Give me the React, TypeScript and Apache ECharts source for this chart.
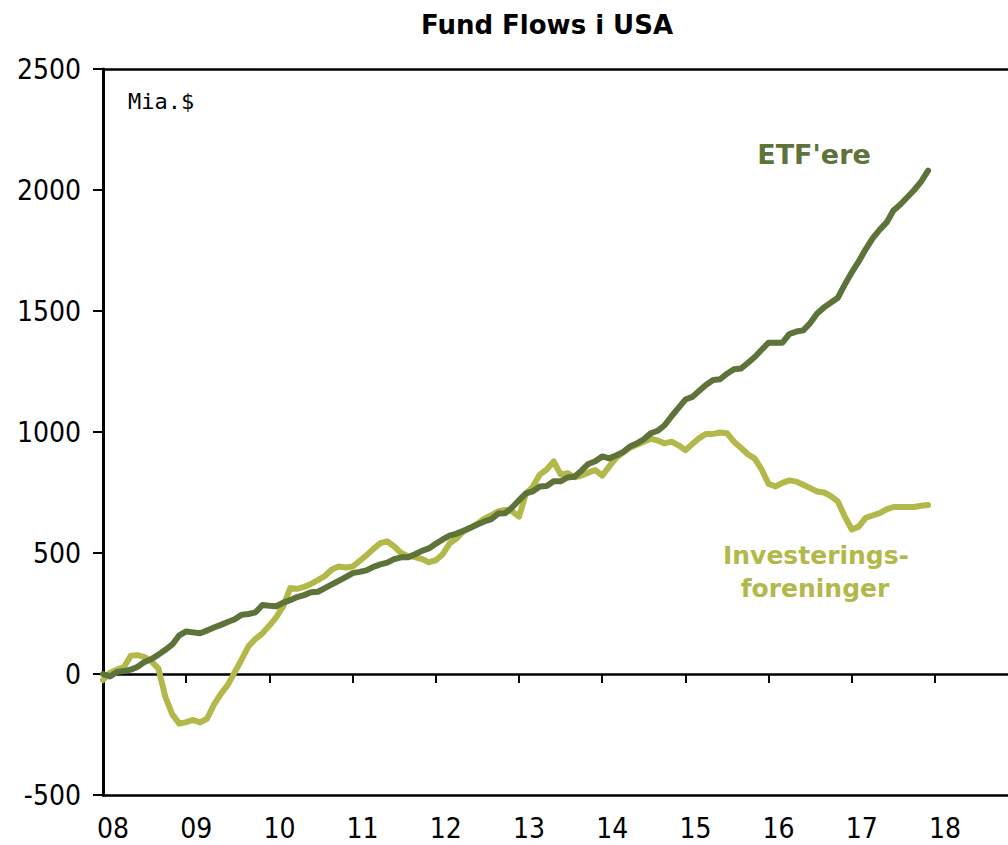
import React, { useEffect, useRef } from "react";
import * as echarts from "echarts";

const years = [2008, 2009, 2010, 2011, 2012, 2013, 2014, 2015, 2016, 2017, 2018];
const yTicks = [-500, 0, 500, 1000, 1500, 2000, 2500];

// Monthly values, Jan 2008 .. Dec 2017 (bn $)
const etfValues = [
  0, -10, 8, 12, 18, 30, 50, 62, 80, 100, 122, 160,
  176, 172, 168, 180, 192, 203, 215, 226, 245, 248, 255, 285,
  282, 280, 295, 305, 318, 326, 338, 340, 355, 370, 385, 400,
  417, 422, 428, 443, 453, 460, 475, 482, 482, 495, 509, 519,
  538, 556, 572, 580, 592, 604, 618, 630, 640, 663, 664, 688,
  718, 746, 755, 775, 777, 796, 796, 812, 815, 840, 868, 879,
  899, 891, 903, 917, 940, 953, 970, 995, 1005, 1028, 1065, 1100,
  1134, 1145, 1170, 1195, 1215, 1218, 1241, 1259, 1262, 1285, 1310, 1340,
  1369, 1369, 1369, 1405, 1415, 1420, 1450, 1490, 1515, 1535, 1555, 1610,
  1660, 1705, 1755, 1800, 1835, 1865, 1915, 1940, 1970, 2000, 2035, 2080,
];

const fundValues = [
  -25, 5, 18, 28, 75, 78, 70, 52, 22, -95, -167, -205,
  -199, -190, -200, -185, -127, -82, -45, 8, 60, 115, 145, 168,
  200, 235, 280, 355, 352, 360, 372, 388, 405, 432, 444, 440,
  444, 467, 490, 517, 541, 548, 527, 500, 487, 483, 475, 462,
  470, 495, 540, 560, 590, 605, 620, 642, 656, 672, 678, 672,
  650, 745, 775, 824, 845, 878, 825, 830, 813, 820, 832, 843,
  820, 857, 893, 915, 935, 947, 960, 972, 965, 953, 960, 945,
  925, 950, 975, 992, 992, 998, 995, 960, 935, 908, 890, 845,
  785, 775, 790, 800, 795, 782, 768, 754, 750, 735, 712, 650,
  597, 609, 645, 655, 665, 680, 690, 690, 690, 690, 695, 698,
];

const startYear = 2008;
const monthsPerYear = 12;

const DARK = "#5E7339";
const LIGHT = "#B2B94A";
const FONT = "'DejaVu Sans Condensed', 'DejaVu Sans', sans-serif";
const BOLD_FONT = "'DejaVu Sans', sans-serif";

export default function App() {
  const ref = useRef<HTMLDivElement>(null);

  useEffect(() => {
    if (!ref.current) return;
    const chart = echarts.init(ref.current, undefined, { renderer: "svg" });

    const gridLeft = 103;
    const gridRight = 0;
    const plotWidth = 1008 - gridLeft - gridRight;
    const pxPerYear = 83.2;
    const xMax = startYear + plotWidth / pxPerYear;

    const toPoints = (vals: number[]) =>
      vals.map((v, i) => [startYear + i / monthsPerYear, v]);

    const option: any = {
      animation: false,
      backgroundColor: "#ffffff",
      title: {
        text: "Fund Flows i USA",
        left: 542,
        top: 7,
        textAlign: "center",
        textStyle: {
          fontFamily: BOLD_FONT,
          fontWeight: "bold",
          fontSize: 26,
          color: "#000",
        },
      },
      grid: { left: gridLeft, right: gridRight, top: 69, bottom: 50, containLabel: false },
      xAxis: [
        {
          type: "value",
          min: startYear,
          max: xMax,
          position: "bottom",
          axisLine: { show: true, onZero: true, lineStyle: { color: "#000", width: 2.5 } },
          axisTick: {
            show: true,
            customValues: years,
            length: 9,
            inside: false,
            lineStyle: { color: "#000", width: 2 },
          },
          axisLabel: { show: false },
          splitLine: { show: false },
        },
        {
          type: "value",
          min: startYear,
          max: xMax,
          position: "bottom",
          axisLine: { show: true, onZero: false, lineStyle: { color: "#000", width: 2.5 } },
          axisTick: { show: false },
          axisLabel: {
            show: true,
            customValues: years,
            formatter: (v: number) => String(Math.round(v) % 100).padStart(2, "0"),
            fontFamily: FONT,
            fontSize: 28,
            color: "#000",
            margin: 19,
            padding: [0, 0, 0, 20],
          },
          splitLine: { show: false },
        },
        {
          type: "value",
          min: startYear,
          max: xMax,
          position: "top",
          axisLine: { show: true, onZero: false, lineStyle: { color: "#000", width: 2.5 } },
          axisTick: { show: false },
          axisLabel: { show: false },
          splitLine: { show: false },
        },
      ],
      yAxis: {
        type: "value",
        min: yTicks[0],
        max: yTicks[yTicks.length - 1],
        interval: 500,
        axisLine: { show: true, onZero: false, lineStyle: { color: "#000", width: 3 } },
        axisTick: { show: true, length: 10, inside: false, lineStyle: { color: "#000", width: 2 } },
        axisLabel: {
          fontFamily: FONT,
          fontSize: 28,
          color: "#000",
          margin: 22,
          formatter: (v: number) => String(v),
        },
        splitLine: { show: false },
      },
      series: [
        {
          name: "Investeringsforeninger",
          type: "line",
          xAxisIndex: 0,
          data: toPoints(fundValues),
          showSymbol: false,
          symbol: "none",
          lineStyle: { color: LIGHT, width: 6, cap: "round", join: "round" },
          z: 3,
        },
        {
          name: "ETF'ere",
          type: "line",
          xAxisIndex: 0,
          data: toPoints(etfValues),
          showSymbol: false,
          symbol: "none",
          lineStyle: { color: DARK, width: 6, cap: "round", join: "round" },
          z: 4,
        },
      ],
      graphic: [
        {
          type: "text",
          left: 128,
          top: 90,
          style: {
            text: "Mia.$",
            fontFamily: "'DejaVu Sans Mono', monospace",
            fontSize: 22,
            fill: "#000",
          },
        },
        {
          type: "text",
          x: 814,
          y: 154,
          style: {
            text: "ETF'ere",
            fontFamily: BOLD_FONT,
            fontWeight: "bold",
            fontSize: 27,
            fill: DARK,
            align: "center",
            verticalAlign: "middle",
          },
        },
        {
          type: "text",
          x: 816,
          y: 555,
          style: {
            text: "Investerings-",
            fontFamily: BOLD_FONT,
            fontWeight: "bold",
            fontSize: 25,
            fill: LIGHT,
            align: "center",
            verticalAlign: "middle",
          },
        },
        {
          type: "text",
          x: 815,
          y: 588,
          style: {
            text: "foreninger",
            fontFamily: BOLD_FONT,
            fontWeight: "bold",
            fontSize: 25,
            fill: LIGHT,
            align: "center",
            verticalAlign: "middle",
          },
        },
      ],
    };

    chart.setOption(option);
    return () => chart.dispose();
  }, []);

  return (
    <div
      ref={ref}
      style={{ position: "fixed", left: 0, top: 0, width: 1008, height: 845, background: "#fff" }}
    />
  );
}
